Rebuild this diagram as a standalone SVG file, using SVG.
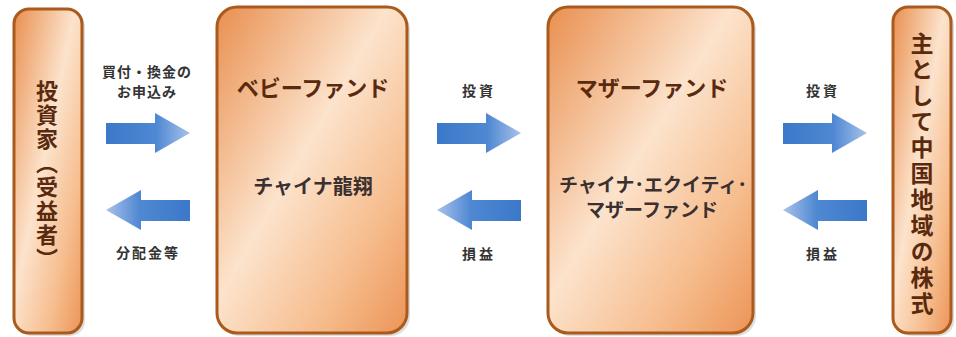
<svg xmlns="http://www.w3.org/2000/svg" width="956" height="337" viewBox="0 0 956 337">
<defs>
<linearGradient id="boxg" x1="0" y1="0" x2="1" y2="1">
<stop offset="0" stop-color="#e98f4f"/>
<stop offset="0.45" stop-color="#fce3cc"/>
<stop offset="0.75" stop-color="#f6bd8e"/>
<stop offset="1" stop-color="#ec9456"/>
</linearGradient>
<linearGradient id="arrR" x1="0" y1="0" x2="1" y2="0">
<stop offset="0" stop-color="#3b78c9"/>
<stop offset="0.6" stop-color="#4f88d2"/>
<stop offset="1" stop-color="#a9c2ea"/>
</linearGradient>
<linearGradient id="arrL" x1="1" y1="0" x2="0" y2="0">
<stop offset="0" stop-color="#3b78c9"/>
<stop offset="0.6" stop-color="#4f88d2"/>
<stop offset="1" stop-color="#a9c2ea"/>
</linearGradient>
<path id="ra" d="M0,10 H49 V0 L84,20 L49,40 V31 H0 Z"/>
<path id="la" d="M84,10 H35 V0 L0,20 L35,40 V31 H84 Z"/>
</defs>
<style>
.box{fill:url(#boxg);stroke:#a95a1c;stroke-width:3}
.sh{fill:#c8c8c8;opacity:0.6}
.ttl{font-family:"Noto Sans CJK JP","Noto Sans",sans-serif;font-weight:bold;fill:#5a2a0e;text-anchor:middle;font-size:22px}
.sub{font-family:"Noto Sans CJK JP","Noto Sans",sans-serif;font-weight:bold;fill:#3a3030;text-anchor:middle}
.lbl{font-family:"Noto Sans CJK JP","Noto Sans",sans-serif;font-weight:bold;fill:#333;text-anchor:middle;font-size:14px}
.vt{font-family:"Noto Sans CJK JP","Noto Sans",sans-serif;font-weight:bold;fill:#5a2a0e;writing-mode:vertical-rl;text-orientation:mixed}
.ar{fill:url(#arrR)}
.al{fill:url(#arrL)}
</style>
<rect width="956" height="337" fill="#ffffff"/>

<g id="investor">
<rect class="sh" x="17" y="12" width="68" height="324" rx="15"/>
<rect class="box" x="14" y="9" width="68" height="324" rx="15"/>
<text class="vt" x="47" y="80" font-size="22" letter-spacing="2">投資家（受益者）</text>
</g>

<g id="babyfund">
<rect class="sh" x="220" y="10" width="190" height="326" rx="20"/>
<rect class="box" x="217" y="7" width="190" height="326" rx="20"/>
<text class="ttl" x="313" y="96">ベビーファンド</text>
<text class="sub" x="313" y="194" font-size="20">チャイナ龍翔</text>
</g>

<g id="motherfund">
<rect class="sh" x="551" y="10" width="205" height="326" rx="20"/>
<rect class="box" x="548" y="7" width="205" height="326" rx="20"/>
<text class="ttl" x="652" y="96">マザーファンド</text>
<text class="sub" x="653" y="192" font-size="19">チャイナ･エクイティ･</text>
<text class="sub" x="652" y="217" font-size="19">マザーファンド</text>
</g>

<g id="stocks">
<rect class="sh" x="896" y="10" width="58" height="326" rx="15"/>
<rect class="box" x="893" y="7" width="58" height="326" rx="15"/>
<text class="vt" x="922" y="32" font-size="23" letter-spacing="3">主として中国地域の株式</text>
</g>

<g id="connectors">
<use href="#ra" class="ar" x="106" y="113"/>
<use href="#la" class="al" x="106" y="190"/>
<use href="#ra" class="ar" x="437" y="113"/>
<use href="#la" class="al" x="437" y="190"/>
<use href="#ra" class="ar" x="783" y="113"/>
<use href="#la" class="al" x="783" y="190"/>
<text class="lbl" x="147" y="77" letter-spacing="1">買付・換金の</text>
<text class="lbl" x="147" y="97" letter-spacing="1">お申込み</text>
<text class="lbl" x="148" y="258" letter-spacing="2">分配金等</text>
<text class="lbl" x="479" y="96" letter-spacing="3">投資</text>
<text class="lbl" x="479" y="259" letter-spacing="3">損益</text>
<text class="lbl" x="823" y="96" letter-spacing="3">投資</text>
<text class="lbl" x="823" y="259" letter-spacing="3">損益</text>
</g>
</svg>
